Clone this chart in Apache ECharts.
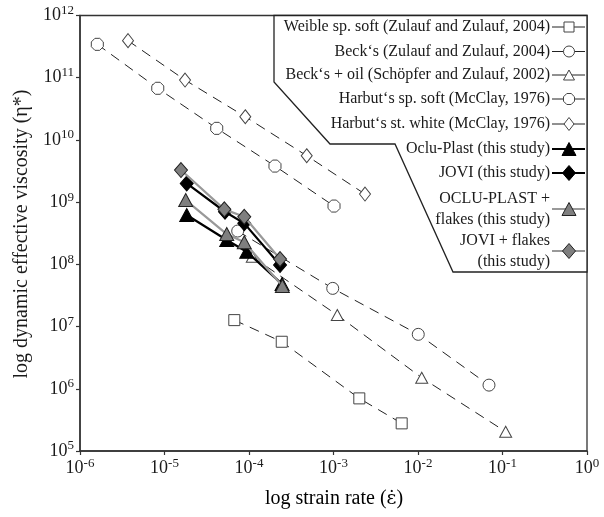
<!DOCTYPE html>
<html>
<head>
<meta charset="utf-8">
<script src="https://cdn.jsdelivr.net/npm/echarts@6/dist/echarts.min.js"></script>
<style>
html,body{margin:0;padding:0;background:#fff;}
#chart{width:604px;height:517px;}
</style>
</head>
<body>
<div id="chart"></div>
<script>
// ---------- data (strain rate [1/s], dynamic effective viscosity) ----------
const seriesNames = [
  'Weible sp. soft (Zulauf and Zulauf, 2004)',
  'Beck\u2018s (Zulauf and Zulauf, 2004)',
  'Beck\u2018s + oil (Sch\u00f6pfer and Zulauf, 2002)',
  'Harbut\u2018s sp. soft (McClay, 1976)',
  'Harbut\u2018s st. white (McClay, 1976)',
  'Oclu-Plast (this study)',
  'JOVI (this study)',
  'OCLU-PLAST +\nflakes (this study)',
  'JOVI + flakes\n(this study)'
];

const weibleX = [6.70e-5, 2.44e-4, 2.02e-3, 6.41e-3];
const weibleY = [1.27e7, 5.70e6, 7.01e5, 2.78e5];

const becksX = [7.35e-5, 9.79e-4, 1.007e-2, 6.92e-2];
const becksY = [3.43e8, 4.11e7, 7.50e6, 1.145e6];

const becksOilX = [1.094e-4, 1.109e-3, 1.107e-2, 0.109];
const becksOilY = [1.324e8, 1.531e7, 1.503e6, 2.04e5];

const harbutSoftX = [1.603e-6, 8.32e-6, 4.15e-5, 2.03e-4, 1.014e-3];
const harbutSoftY = [3.44e11, 6.76e10, 1.535e10, 3.80e9, 8.65e8];

const harbutWhiteX = [3.70e-6, 1.750e-5, 9.04e-5, 4.82e-4, 2.36e-3];
const harbutWhiteY = [3.94e11, 9.18e10, 2.36e10, 5.57e9, 1.349e9];

const ocluX = [1.832e-5, 5.45e-5, 9.40e-5, 2.46e-4];
const ocluY = [6.21e8, 2.46e8, 1.596e8, 4.82e7];

const joviX = [1.832e-5, 5.20e-5, 8.79e-5, 2.33e-4];
const joviY = [2.00e9, 7.01e8, 4.56e8, 9.75e7];

const ocluFlakesX = [1.782e-5, 5.45e-5, 8.79e-5, 2.48e-4];
const ocluFlakesY = [1.081e9, 3.07e8, 2.26e8, 4.48e7];

const joviFlakesX = [1.567e-5, 5.11e-5, 8.79e-5, 2.33e-4];
const joviFlakesY = [3.28e9, 7.66e8, 5.82e8, 1.216e8];

const xTickExps = ['-6', '-5', '-4', '-3', '-2', '-1', '0'];
const yTickExps = ['5', '6', '7', '8', '9', '10', '11', '12'];

const xTitleParts = ['log strain rate (', '\u03b5\u0307', ')'];
const yTitle = 'log dynamic effective viscosity (\u03b7*)';

// ---------- styling ----------
const FONT = '"Liberation Serif", "Times New Roman", serif';
const OCT = 'path://M3,0L7,0L10,3L10,7L7,10L3,10L0,7L0,3Z';

const seriesData = [
  [weibleX, weibleY], [becksX, becksY], [becksOilX, becksOilY],
  [harbutSoftX, harbutSoftY], [harbutWhiteX, harbutWhiteY],
  [ocluX, ocluY], [joviX, joviY], [ocluFlakesX, ocluFlakesY], [joviFlakesX, joviFlakesY]
];

const styles = [
  {sym: 'rect', size: [11, 11], lsize: [10, 10], fill: '#fff', border: '#444', line: '#222', lw: 1, dash: true},
  {sym: 'circle', size: [12, 12], lsize: [11, 11], fill: '#fff', border: '#444', line: '#222', lw: 1, dash: true},
  {sym: 'triangle', size: [12, 11], lsize: [11, 10], fill: '#fff', border: '#444', line: '#222', lw: 1, dash: true},
  {sym: OCT, size: [12, 12], lsize: [11, 11], fill: '#fff', border: '#444', line: '#222', lw: 1, dash: true},
  {sym: 'diamond', size: [11, 14], lsize: [10, 13], fill: '#fff', border: '#444', line: '#222', lw: 1, dash: true},
  {sym: 'triangle', size: [14, 13], lsize: [14, 13], fill: '#000', border: '#000', line: '#000', lw: 2.2, dash: false},
  {sym: 'diamond', size: [13, 15], lsize: [13, 15], fill: '#000', border: '#000', line: '#000', lw: 2.2, dash: false},
  {sym: 'triangle', size: [14, 13], lsize: [14, 13], fill: '#7f7f7f', border: '#222', line: '#999', lw: 2.2, dash: false},
  {sym: 'diamond', size: [13, 15], lsize: [13, 15], fill: '#7f7f7f', border: '#222', line: '#999', lw: 2.2, dash: false}
];

const series = seriesData.map((d, i) => {
  const s = styles[i];
  return {
    name: seriesNames[i],
    type: 'line',
    data: d[0].map((x, k) => [x, d[1][k]]),
    symbol: s.sym,
    symbolSize: s.size,
    showSymbol: true,
    showAllSymbol: true,
    itemStyle: {color: s.fill, borderColor: s.border, borderWidth: 1},
    lineStyle: {color: s.line, width: s.lw, type: s.dash ? [10, 7] : 'solid'},
    emphasis: {disabled: true},
    z: 2 + i,
    animation: false
  };
});

// ---------- legend drawn as graphic ----------
const graphic = [];
graphic.push({
  type: 'polygon', z: 100,
  shape: {points: [[274, 15.5], [274, 82], [330, 144], [395, 144], [453, 272], [587, 272], [587, 15.5]]},
  style: {fill: '#fff', stroke: '#222', lineWidth: 1.3}
});
const rowY = [27, 51.5, 75, 99, 124, 149, 173, 209, 251];
const textX = 550, sampleL = 552, sampleR = 585, symX = 569;

function symbolGraphic(s, cx, cy) {
  const w = s.lsize[0], h = s.lsize[1];
  const st = {fill: s.fill, stroke: s.border, lineWidth: 1};
  if (s.sym === 'rect') return {type: 'rect', z: 102, shape: {x: cx - w / 2, y: cy - h / 2, width: w, height: h}, style: st};
  if (s.sym === 'circle') return {type: 'circle', z: 102, shape: {cx: cx, cy: cy, r: w / 2}, style: st};
  if (s.sym === 'triangle') return {type: 'polygon', z: 102, shape: {points: [[cx, cy - h / 2], [cx + w / 2, cy + h / 2], [cx - w / 2, cy + h / 2]]}, style: st};
  if (s.sym === 'diamond') return {type: 'polygon', z: 102, shape: {points: [[cx, cy - h / 2], [cx + w / 2, cy], [cx, cy + h / 2], [cx - w / 2, cy]]}, style: st};
  const a = w * 0.3, b = h * 0.3;
  return {type: 'polygon', z: 102, shape: {points: [
    [cx - w / 2 + a, cy - h / 2], [cx + w / 2 - a, cy - h / 2], [cx + w / 2, cy - h / 2 + b], [cx + w / 2, cy + h / 2 - b],
    [cx + w / 2 - a, cy + h / 2], [cx - w / 2 + a, cy + h / 2], [cx - w / 2, cy + h / 2 - b], [cx - w / 2, cy - h / 2 + b]]}, style: st};
}

seriesNames.forEach((name, i) => {
  const s = styles[i];
  const y = rowY[i];
  const multi = name.indexOf('\n') >= 0;
  graphic.push({
    type: 'text', z: 101, x: textX, y: y,
    style: {text: name, font: '16px ' + FONT, fill: '#1a1a1a', align: 'right', verticalAlign: 'middle', lineHeight: multi ? 21 : 18}
  });
  graphic.push({
    type: 'line', z: 101,
    shape: {x1: sampleL, y1: y, x2: sampleR, y2: y},
    style: {stroke: s.line, lineWidth: s.lw}
  });
  graphic.push(symbolGraphic(s, symX, y));
});

graphic.push({
  type: 'text', x: 21.5, y: 234, rotation: Math.PI / 2,
  style: {text: yTitle, font: '20px ' + FONT, fill: '#1a1a1a', align: 'center', verticalAlign: 'middle'}
});
graphic.push({
  type: 'text', x: 334, y: 499,
  style: {
    text: '{a|' + xTitleParts[0] + '}{e|' + xTitleParts[1] + '}{a|' + xTitleParts[2] + '}',
    align: 'center', verticalAlign: 'middle',
    rich: {
      a: {fontSize: 20, fontFamily: FONT, color: '#1a1a1a'},
      e: {fontSize: 19, fontFamily: '"DejaVu Serif", serif', color: '#1a1a1a'}
    }
  }
});

function expLabel(v, arr, base) {
  const e = Math.round(Math.log10(v));
  const idx = e - base;
  const ex = arr[idx] !== undefined ? arr[idx] : String(e);
  return '{b|10}{s|' + ex + '}';
}
const richLbl = {
  b: {fontSize: 18, fontFamily: FONT, color: '#1a1a1a'},
  s: {fontSize: 13, fontFamily: FONT, color: '#1a1a1a', padding: [0, 0, 10, 0]}
};

const option = {
  backgroundColor: '#fff',
  animation: false,
  grid: {left: 80, right: 17, top: 15.5, bottom: 66, show: true, borderColor: '#333', borderWidth: 1.3, outerBoundsMode: 'none', containLabel: false},
  xAxis: {
    type: 'log', logBase: 10, min: 1e-6, max: 1, splitNumber: 6,
    axisLine: {show: true, lineStyle: {color: '#333', width: 1.5}},
    axisTick: {show: true, inside: false, length: 4, lineStyle: {color: '#333', width: 1.2}},
    minorTick: {show: false},
    splitLine: {show: false},
    axisLabel: {margin: 6, formatter: v => expLabel(v, xTickExps, -6), rich: richLbl, showMinLabel: true, showMaxLabel: true, hideOverlap: false}
  },
  yAxis: {
    type: 'log', logBase: 10, min: 1e5, max: 1e12, splitNumber: 7,
    axisLine: {show: true, lineStyle: {color: '#333', width: 1.5}},
    axisTick: {show: true, inside: false, length: 4, lineStyle: {color: '#333', width: 1.2}},
    minorTick: {show: false},
    splitLine: {show: false},
    axisLabel: {margin: 6, formatter: v => expLabel(v, yTickExps, 5), rich: richLbl, showMinLabel: true, showMaxLabel: true, hideOverlap: false}
  },
  legend: {show: false},
  tooltip: {show: false},
  graphic: graphic,
  series: series
};

const chart = echarts.init(document.getElementById('chart'), null, {renderer: 'canvas'});
chart.setOption(option);
</script>
</body>
</html>
